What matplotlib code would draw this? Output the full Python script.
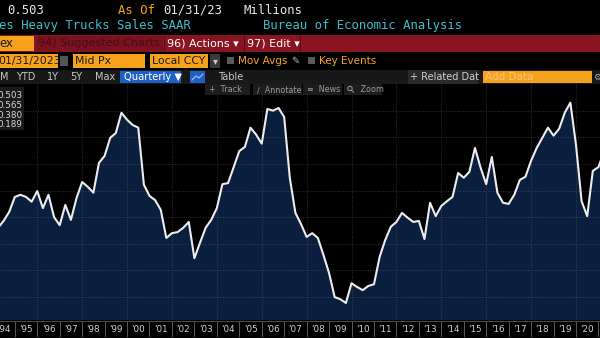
import numpy as np
import matplotlib
matplotlib.use('Agg')
import matplotlib.pyplot as plt
from matplotlib.patches import Rectangle, Circle

# US heavy trucks sales SAAR (millions), quarterly, first point = end of 1994Q1
start_year = 1994
values = [0.330, 0.343, 0.360,
          0.388, 0.392, 0.388, 0.379,
          0.399, 0.367, 0.392, 0.350,
          0.335, 0.373, 0.345, 0.386,
          0.416, 0.407, 0.396, 0.452,
          0.465, 0.499, 0.508, 0.546,
          0.533, 0.523, 0.518, 0.411,
          0.390, 0.382, 0.364, 0.311,
          0.320, 0.322, 0.330, 0.341,
          0.273, 0.302, 0.330, 0.345,
          0.367, 0.412, 0.414, 0.444,
          0.474, 0.482, 0.518, 0.505,
          0.488, 0.553, 0.550, 0.555,
          0.538, 0.424, 0.358, 0.337,
          0.313, 0.320, 0.311, 0.279,
          0.245, 0.200, 0.196, 0.189,
          0.226, 0.219, 0.213, 0.221,
          0.224, 0.275, 0.307, 0.332,
          0.341, 0.358, 0.349, 0.341,
          0.343, 0.309, 0.377, 0.352,
          0.371, 0.380, 0.388, 0.433,
          0.424, 0.435, 0.480, 0.443,
          0.412, 0.463, 0.396, 0.377,
          0.375, 0.392, 0.420, 0.426,
          0.456, 0.480, 0.499, 0.518,
          0.503, 0.516, 0.546, 0.565,
          0.486, 0.380, 0.352, 0.437,
          0.444, 0.473]
year_labels = ["'94", "'95", "'96", "'97", "'98", "'99", "'00", "'01", "'02",
               "'03", "'04", "'05", "'06", "'07", "'08", "'09", "'10", "'11",
               "'12", "'13", "'14", "'15", "'16", "'17", "'18", "'19", "'20"]
legend_vals = ["0.503", "0.565", "0.380", "0.189"]

ORANGE = '#f7a21b'
CYAN = '#3fbccc'
RED = '#8a1522'
NAVY = '#0a1f3d'
BLUE = '#1f60c4'

W, H = 600, 338
fig = plt.figure(figsize=(6, 3.38), dpi=100, facecolor='black')

# chart area, pixel rows 84..320
ax = fig.add_axes([0, (H - 320) / H, 1, (320 - 84) / H])
ax.set_facecolor('black')
x = start_year + 0.25 * (np.arange(len(values)) + 1)
ax.fill_between(x, values, 0, color=NAVY, zorder=1)
ax.plot(x, values, color='#ececec', lw=1.5, zorder=3)
ax.set_xlim(1994.34, 2021.07)
ax.set_ylim(0.157, 0.600)
for v in np.arange(0.20, 0.56, 0.05):
    ax.axhline(v, color='#6a6a6a', lw=0.6, ls=(0, (1, 2)), alpha=0.6, zorder=2)
for yr in range(1996, 2021, 2):
    ax.axvline(yr, color='#6a6a6a', lw=0.6, ls=(0, (1, 2)), alpha=0.6, zorder=2)
ax.set_xticks([])
ax.set_yticks([])
for s in ax.spines.values():
    s.set_visible(False)

# overlay in pixel coordinates for the terminal chrome
ov = fig.add_axes([0, 0, 1, 1], facecolor='none')
ov.set_xlim(0, W)
ov.set_ylim(H, 0)
ov.axis('off')


def box(x0, y0, x1, y1, color, **kw):
    ov.add_patch(Rectangle((x0, y0), x1 - x0, y1 - y0, facecolor=color,
                           edgecolor='none', **kw))


def txt(xx, yy, s, color='white', size=8, mono=False, **kw):
    fam = 'DejaVu Sans Mono' if mono else 'DejaVu Sans'
    ov.text(xx, yy, s, color=color, fontsize=size, family=fam,
            va='center', ha=kw.pop('ha', 'left'), **kw)


# row 1 and 2
txt(7, 10, '0.503', size=8.8, mono=True, color='#e6e6e6')
txt(118, 10, 'As Of', size=8.8, mono=True, color=ORANGE)
txt(163, 10, '01/31/23', size=8.8, mono=True, color='#e6e6e6')
txt(243, 10, 'Millions', size=8.8, mono=True, color='#e6e6e6')
txt(-1, 26, 'es Heavy Trucks Sales SAAR', size=8.8, mono=True, color=CYAN)
txt(263, 26, 'Bureau of Economic Analysis', size=8.8, mono=True, color=CYAN)

# row 3: red button bar
box(0, 35, W, 52, RED)
box(0, 36, 34, 51, ORANGE)
txt(-1, 43.5, 'ex', size=8.5, color='#1a1a1a')
box(36, 36, 163, 51, '#7a1320')
txt(38, 43.5, '94) Suggested Charts', size=8, color='#4e0b14')
box(164, 35, 165, 52, '#5a0c16')
txt(167, 43.5, '96) Actions \u25be', size=8, color='white')
box(244, 35, 245, 52, '#5a0c16')
txt(247, 43.5, '97) Edit \u25be', size=8, color='white')
box(300, 35, 301, 52, '#5a0c16')

# row 4: orange input fields
box(0, 54, 58, 68, ORANGE)
txt(-2, 61, '01/31/2023', size=7.8, color='#1a1a1a')
box(60, 56, 68, 66, '#555555')
box(73, 54, 145, 68, ORANGE)
txt(75, 61, 'Mid Px', size=7.8, color='#1a1a1a')
box(150, 54, 208, 68, ORANGE)
txt(152, 61, 'Local CCY', size=7.8, color='#1a1a1a')
box(210, 54, 220, 68, '#3a3a3a')
txt(215, 61, '\u25be', size=7, color='#cccccc', ha='center')
box(227, 57, 234, 64, '#5a5a5a')
txt(238, 61, 'Mov Avgs', size=7.5, color=ORANGE)
txt(291, 61, '\u270e', size=7, color='#bbbbbb')
box(308, 57, 315, 64, '#5a5a5a')
txt(319, 61, 'Key Events', size=7.5, color=ORANGE)

# row 5: period bar
box(0, 70, W, 84, '#181818')
for xx, s in [(0, 'M'), (16, 'YTD'), (47, '1Y'), (70, '5Y'), (95, 'Max')]:
    txt(xx, 77, s, size=7, color='#c8c8c8')
box(120, 71, 181, 83, BLUE)
txt(124, 77, 'Quarterly \u25bc', size=7.2, color='white')
box(190, 71, 205, 83, BLUE)
ov.plot([192, 196, 199, 203], [80, 76, 78, 74], color='#9ec3ff', lw=0.8)
txt(218, 77, 'Table', size=7, color='#c8c8c8')
box(408, 70, 478, 84, '#2a2a2a')
txt(410, 77, '+ Related Dat', size=7, color='#d0d0d0')
box(483, 71, 592, 83, ORANGE)
txt(485, 77, 'Add Data', size=7.5, color='#f9c57a')
txt(593, 77, '\u2699', size=6.5, color='#aaaaaa')

# row 6: small tool buttons over chart
for x0, x1, s in [(205, 250, '+  Track'), (253, 302, '\u2215  Annotate'),
                  (303, 342, '\u2261  News'), (344, 382, '     Zoom')]:
    box(x0, 84, x1, 95, '#1c1c1c')
    txt(x0 + 4, 89.5, s, size=5.8, color='#9a9a9a')
# magnifier icon for Zoom
ov.add_patch(Circle((350, 88.5), 2.2, facecolor='none', edgecolor='#9a9a9a', lw=0.7))
ov.plot([351.6, 353.5], [90.2, 92.2], color='#9a9a9a', lw=0.7)

# legend box top-left
box(0, 87, 24, 130, '#1a1a1a')
for i, s in enumerate(legend_vals):
    txt(-3, 96 + 9.5 * i, s, size=6.3, color='#d8d8d8')

# x axis row
box(0, 320, W, H, 'black')
ov.plot([0, W], [320.5, 320.5], color='#4a4a4a', lw=0.8)
x0, x1 = ax.get_xlim()
for i, lab in enumerate(year_labels):
    yr = 1994 + i
    px_b = (yr + 1 - x0) / (x1 - x0) * W
    px_c = (yr + 0.5 - x0) / (x1 - x0) * W
    ov.plot([px_b, px_b], [322, 336], color='#5a5a5a', lw=0.7)
    txt(px_c, 329, lab, size=6.3, color='#d0d0d0', ha='center')

fig.savefig('out.png', dpi=100, facecolor='black')
